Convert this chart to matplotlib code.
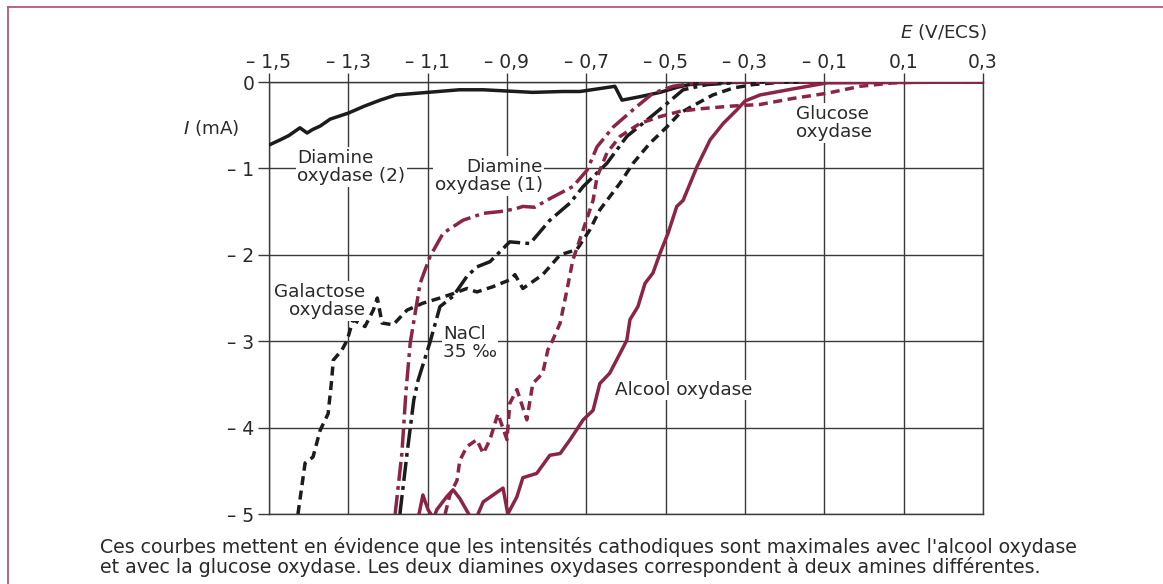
import matplotlib
matplotlib.use("Agg")
import matplotlib.pyplot as plt
from matplotlib.lines import Line2D

plt.rcParams['font.family'] = ['DejaVu Sans']

# ---------------- data (E in V/ECS, I in mA) ----------------
diam2_E = [-1.5, -1.472, -1.45, -1.422, -1.404, -1.39, -1.371, -1.346, -1.30, -1.26,
           -1.22, -1.18, -1.1, -1.02, -0.96, -0.835, -0.76, -0.716, -0.628, -0.61,
           -0.565, -0.514, -0.47, -0.44, -0.40, -0.363, -0.3, -0.15]
diam2_I = [-0.73, -0.67, -0.62, -0.53, -0.59, -0.55, -0.51, -0.43, -0.36, -0.28,
           -0.21, -0.15, -0.12, -0.09, -0.09, -0.12, -0.11, -0.11, -0.05, -0.21,
           -0.17, -0.12, -0.06, -0.03, -0.015, -0.01, 0.0, 0.0]

diam1_E = [-1.170, -1.152, -1.135, -1.124, -1.094, -1.069, -1.036, -1.001, -0.976, -0.943,
           -0.893, -0.842, -0.792, -0.741, -0.708, -0.648, -0.598, -0.547, -0.497, -0.456,
           -0.396, -0.3, -0.1]
diam1_I = [-5.0, -4.3, -3.68, -3.45, -3.01, -2.60, -2.48, -2.25, -2.14, -2.08,
           -1.85, -1.87, -1.60, -1.40, -1.21, -0.94, -0.63, -0.44, -0.25, -0.09,
           -0.03, 0.0, 0.0]

nacl_E = [-1.182, -1.165, -1.155, -1.144, -1.119, -1.094, -1.061, -1.011, -0.96, -0.918,
          -0.88, -0.86, -0.83, -0.792, -0.734, -0.698, -0.673, -0.632, -0.582, -0.532,
          -0.482, -0.421, -0.35, 0.3]
nacl_I = [-5.0, -4.3, -3.6, -3.02, -2.33, -2.02, -1.75, -1.60, -1.52, -1.50,
          -1.47, -1.44, -1.45, -1.35, -1.21, -1.02, -0.75, -0.52, -0.32, -0.13,
          -0.05, -0.01, 0.0, 0.0]

galac_E = [-1.427, -1.409, -1.389, -1.371, -1.351, -1.342, -1.338, -1.316, -1.303, -1.288,
           -1.258, -1.237, -1.227, -1.215, -1.187, -1.152, -1.112, -1.069, -1.036, -1.001,
           -0.976, -0.936, -0.893, -0.880, -0.86, -0.81, -0.766, -0.724, -0.691, -0.666,
           -0.648, -0.615, -0.582, -0.54, -0.497, -0.464, -0.421, -0.381, -0.33, -0.28,
           -0.2, -0.1]
galac_I = [-5.0, -4.41, -4.34, -4.03, -3.84, -3.45, -3.22, -3.10, -2.99, -2.75,
           -2.83, -2.64, -2.50, -2.79, -2.81, -2.64, -2.56, -2.50, -2.45, -2.39,
           -2.43, -2.37, -2.29, -2.23, -2.39, -2.23, -2.0, -1.94, -1.71, -1.48,
           -1.37, -1.17, -0.94, -0.71, -0.52, -0.36, -0.25, -0.15, -0.07, -0.03,
           0.0, 0.0]

gluc_E = [-1.056, -1.044, -1.026, -1.019, -1.001, -0.976, -0.96, -0.943, -0.923, -0.9,
          -0.893, -0.875, -0.85, -0.835, -0.81, -0.797, -0.785, -0.766, -0.749, -0.734,
          -0.708, -0.691, -0.683, -0.673, -0.648, -0.615, -0.565, -0.514, -0.464, -0.413,
          -0.338, -0.262, -0.179, -0.093, -0.01, 0.073, 0.15, 0.3]
gluc_I = [-5.0, -4.78, -4.61, -4.38, -4.22, -4.14, -4.30, -4.14, -3.84, -4.14,
          -3.72, -3.56, -3.91, -3.49, -3.37, -3.10, -2.99, -2.79, -2.41, -2.06,
          -1.71, -1.48, -1.37, -1.10, -0.82, -0.63, -0.48, -0.40, -0.34, -0.31,
          -0.28, -0.26, -0.19, -0.13, -0.05, -0.01, 0.0, 0.0]

alc_E = [-1.124, -1.112, -1.099, -1.085, -1.077, -1.052, -1.036, -1.019, -0.994, -0.975,
         -0.96, -0.935, -0.91, -0.898, -0.875, -0.86, -0.825, -0.792, -0.766, -0.741,
         -0.708, -0.683, -0.666, -0.641, -0.615, -0.598, -0.59, -0.57, -0.552, -0.532,
         -0.514, -0.494, -0.472, -0.456, -0.421, -0.388, -0.355, -0.32, -0.3, -0.262,
         -0.179, -0.093, 0.3]
alc_I = [-5.05, -4.78, -4.95, -5.05, -4.95, -4.8, -4.72, -4.82, -5.02, -5.02,
         -4.86, -4.78, -4.70, -5.0, -4.8, -4.58, -4.53, -4.32, -4.30, -4.14,
         -3.91, -3.80, -3.49, -3.37, -3.14, -2.99, -2.75, -2.60, -2.33, -2.21,
         -1.98, -1.75, -1.44, -1.37, -0.98, -0.67, -0.48, -0.32, -0.22, -0.15,
         -0.08, -0.01, 0.0]

x_ticks = [-1.5, -1.3, -1.1, -0.9, -0.7, -0.5, -0.3, -0.1, 0.1, 0.3]
x_labels = ['– 1,5', '– 1,3', '– 1,1', '– 0,9', '– 0,7', '– 0,5', '– 0,3', '– 0,1', '0,1', '0,3']
y_ticks = [0, -1, -2, -3, -4, -5]
y_labels = ['0', '– 1', '– 2', '– 3', '– 4', '– 5']

caption = ("Ces courbes mettent en évidence que les intensités cathodiques sont maximales avec l'alcool oxydase\n"
           "et avec la glucose oxydase. Les deux diamines oxydases correspondent à deux amines différentes.")

# ---------------- style ----------------
WINE = '#8c2445'
BLACK = '#1c1c1c'
GRID = '#3a3a3a'
TXT = '#2a2a2a'
FS_TICK = 13.5
FS = 13.2

fig = plt.figure(figsize=(11.63, 5.84), dpi=100)
ax = fig.add_axes([269/1163, 1-514/584, (983-269)/1163, (514-82)/584])
ax.set_xlim(-1.5, 0.3)
ax.set_ylim(-5, 0)

ax.set_xticks(x_ticks)
ax.set_xticklabels(x_labels)
ax.set_yticks(y_ticks)
ax.set_yticklabels(y_labels)
ax.xaxis.tick_top()
ax.tick_params(axis='x', direction='out', length=6.5, width=1.0, color=GRID, pad=1.0,
               labelsize=FS_TICK, labelcolor=TXT)
ax.tick_params(axis='y', direction='out', length=8, width=1.0, color=GRID, pad=2.5,
               labelsize=FS_TICK, labelcolor=TXT)
ax.grid(True, color=GRID, linewidth=1.0, zorder=0)
for sp in ax.spines.values():
    sp.set_color(GRID)
    sp.set_linewidth(1.0)

LW = 2.5
ax.plot(galac_E, galac_I, color=BLACK, lw=LW, dashes=(2.6, 1.6), zorder=3)
ax.plot(diam1_E, diam1_I, color=BLACK, lw=LW, dashes=(5.5, 1.5, 1.1, 1.5), zorder=3)
ax.plot(diam2_E, diam2_I, color=BLACK, lw=LW, solid_joinstyle='round', zorder=3)
ax.plot(nacl_E, nacl_I, color=WINE, lw=LW, dashes=(5.5, 1.5, 1.1, 1.5), zorder=4)
ax.plot(gluc_E, gluc_I, color=WINE, lw=LW, dashes=(2.6, 1.6), zorder=4)
ax.plot(alc_E, alc_I, color=WINE, lw=LW, solid_joinstyle='round', zorder=4)

bb = dict(facecolor='white', edgecolor='none', pad=1.0)

def to_data(px, py):
    x = -1.5 + (px - 269) / (983 - 269) * 1.8
    y = -(py - 82) / (514 - 82) * 5
    return x, y

def label(px, py, s, ha='left'):
    x, y = to_data(px, py)
    ax.text(x, y, s, ha=ha, va='center', fontsize=FS, color=TXT, bbox=bb,
            zorder=5, linespacing=1.05)

label(297, 167, 'Diamine\noxydase (2)')
label(543, 176, 'Diamine\noxydase (1)', ha='right')
label(796, 123, 'Glucose\noxydase')
label(365, 301, 'Galactose\noxydase', ha='right')
label(443, 343, 'NaCl\n35 ‰')
label(615, 390, 'Alcool oxydase')

fig.text(987/1163, 1-32/584, r'$\mathit{E}$ (V/ECS)', ha='right', va='center',
         fontsize=FS, color=TXT)
fig.text(240/1163, 1-128/584, r'$\mathit{I}$ (mA)', ha='right', va='center',
         fontsize=FS, color=TXT)

fig.text(100/1163, 1-557/584, caption, ha='left', va='center', fontsize=13.6,
         color=TXT, linespacing=1.0)

# outer frame (top and left borders)
FRAME = '#b9587a'
fig.add_artist(Line2D([8/1163, 1.0], [1-7/584, 1-7/584], transform=fig.transFigure,
                      color=FRAME, lw=1.3))
fig.add_artist(Line2D([8/1163, 8/1163], [1-7/584, 0.0], transform=fig.transFigure,
                      color=FRAME, lw=1.3))

fig.savefig('out.png', dpi=100)
